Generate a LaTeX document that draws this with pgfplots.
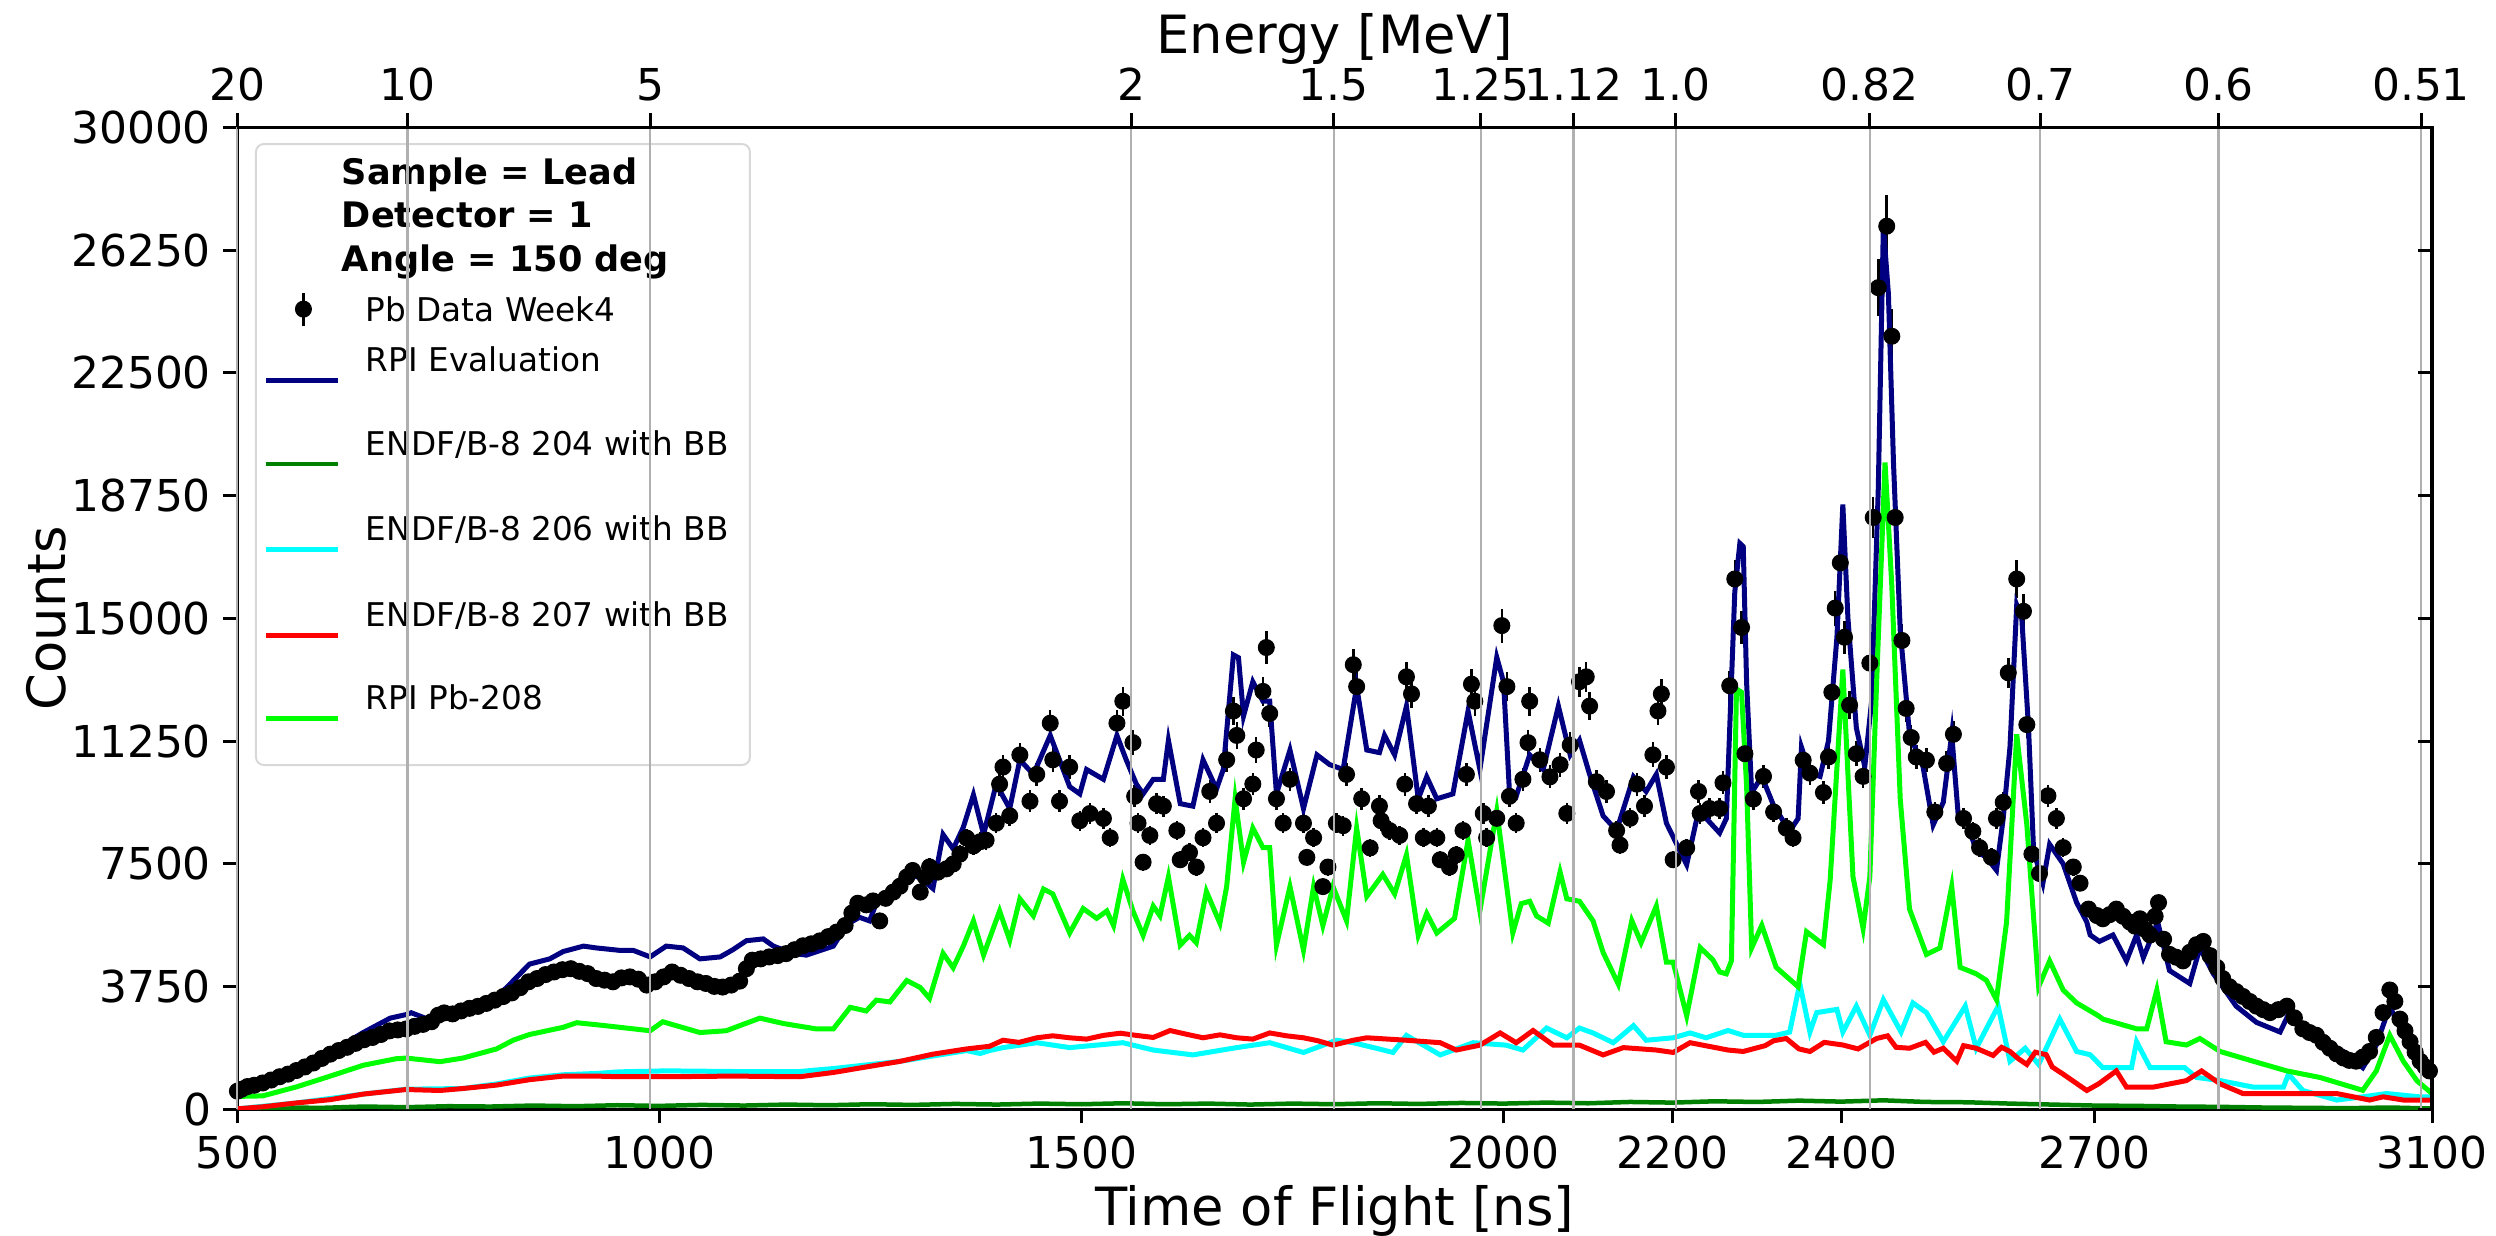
\documentclass[border=0pt]{standalone}
\usepackage{fontspec}
\setmainfont{DejaVu Sans}
\usepackage{pgfplots}
\pgfplotsset{compat=1.18}
\usepackage{pgfplotstable}

\definecolor{mplnavy}{HTML}{000080}
\definecolor{mplgreen}{HTML}{008000}
\definecolor{mplcyan}{HTML}{00FFFF}
\definecolor{mplred}{HTML}{FF0000}
\definecolor{mpllime}{HTML}{00FF00}
\definecolor{gridgray}{HTML}{B0B0B0}
\definecolor{legedge}{HTML}{D8D8D8}

\newcommand{\lrow}[3]{\rule[-#2]{0pt}{\dimexpr#1+#2\relax}#3}

\pgfplotsset{
  mylegline/.style={legend image code/.code={\draw[##1] (0mm,-0.9mm) -- (7.2mm,-0.9mm);}},
  mylegdata/.style={legend image code/.code={
    \draw[black, line width=0.25mm] (3.7mm,-0.46mm) -- (3.7mm,2.84mm);
    \draw[black, only marks, mark=*, mark size=0.8mm] plot coordinates {(3.7mm,1.19mm)};}},
}

\pgfplotstableread{
t c
500 560
505 620
512 700
520 740
530 810
540 900
550 1000
560 1080
570 1190
580 1300
590 1420
600 1560
610 1690
620 1800
630 1900
640 2020
650 2130
660 2200
670 2290
680 2400
690 2430
700 2460
710 2540
720 2600
730 2680
738 2880
745 2950
755 2920
765 3010
775 3090
785 3150
795 3240
805 3340
815 3450
825 3560
835 3720
845 3900
855 4000
865 4120
875 4200
885 4270
895 4300
905 4220
915 4150
925 4000
935 3950
945 3900
955 4020
965 4050
975 3980
985 3800
995 3900
1005 4050
1015 4200
1025 4100
1035 4000
1045 3900
1055 3850
1065 3760
1075 3740
1085 3800
1095 3920
1103 4300
1110 4560
1120 4600
1130 4660
1140 4700
1150 4760
1160 4880
1170 5000
1180 5060
1190 5150
1200 5280
1210 5420
1220 5620
1228 6000
1235 6300
1245 6250
1253 6370
1261 5760
1268 6450
1277 6640
1285 6820
1293 7100
1300 7300
1309 6640
1315 7100
1320 7410
1330 7250
1340 7350
1348 7500
1356 7800
1364 8290
1372 8050
1380 8180
1387 8225
1399 8745
1403 9937
1407 10460
1415 8970
1427 10830
1439 9415
1447 10235
1463 11800
1466 10680
1474 9415
1486 10460
1498 8820
1510 9040
1526 8890
1534 8300
1542 11800
1549 12470
1561 11205
1563 9565
1567 8745
1573 7553
1581 8370
1589 9340
1597 9265
1613 8520
1617 7628
1628 7850
1636 7405
1644 8300
1652 9715
1660 8745
1672 10680
1680 12170
1684 11425
1692 9490
1703 9940
1707 10980
1715 12770
1719 14110
1723 12095
1731 9490
1739 8745
1747 10085
1763 8745
1767 7700
1775 8300
1786 6808
1792 7405
1802 8745
1810 8670
1814 10235
1822 13585
1826 12917
1832 9490
1842 7990
1853 9267
1855 8820
1865 8521
1877 8372
1883 9937
1885 13215
1891 12694
1897 9341
1905 8298
1911 9267
1921 8298
1925 7628
1936 7404
1944 7777
1952 8521
1956 10235
1962 12992
1966 12470
1976 9043
1980 8298
1992 8894
1998 14780
2004 12917
2007 9565
2015 8745
2023 10086
2029 11204
2031 12470
2043 10682
2055 10160
2067 10533
2075 9043
2079 11129
2090 13066
2098 13215
2102 12321
2110 10012
2122 9713
2134 8521
2138 8075
2150 8894
2158 9937
2167 9267
2177 10831
2183 12172
2187 12694
2193 10458
2201 7628
2217 7990
2231 9713
2233 9043
2244 9192
2256 9192
2260 9977
2268 12942
2274 16204
2282 14722
2286 10866
2296 9482
2308 10174
2320 9087
2335 8593
2343 8296
2355 10669
2363 10273
2379 9680
2385 10767
2389 12744
2393 15315
2399 16698
2404 14425
2410 12349
2418 10866
2426 10174
2434 13634
2438 18082
2444 25101
2454 26979
2460 23618
2464 18082
2472 14326
2477 12250
2483 11361
2489 10767
2501 10669
2511 9087
2525 10570
2533 11460
2545 8889
2556 8494
2564 7999
2578 7703
2584 8889
2592 9383
2598 13338
2608 16204
2616 15216
2620 11756
2626 7802
2635 7209
2645 9582
2655 8889
2663 7999
2675 7406
2683 6912
2693 6121
2703 5924
2710 5825
2718 5950
2726 6121
2734 5900
2742 5726
2748 5600
2754 5825
2760 5500
2766 5330
2772 5900
2776 6319
2782 5200
2789 4737
2797 4650
2805 4540
2813 4800
2821 5034
2829 5133
2837 4700
2845 4342
2852 4000
2860 3749
2868 3600
2876 3452
2884 3300
2892 3156
2900 3050
2908 2959
2918 3050
2928 3156
2937 2800
2947 2464
2955 2350
2963 2267
2971 2050
2979 1871
2987 1700
2995 1574
3002 1500
3010 1475
3018 1600
3026 1772
3034 2200
3042 2959
3050 3650
3056 3300
3062 2761
3068 2400
3074 2069
3080 1750
3086 1475
3092 1300
3097 1178
}\tabdata

\pgfplotstableread{
t c
500 590
530 810
570 1250
610 1745
649 2350
681 2790
700 2900
706 2955
728 2735
748 2790
767 2955
807 3450
819 3725
846 4440
870 4600
886 4825
910 4990
925 4935
953 4860
969 4860
989 4660
1008 4990
1028 4935
1048 4600
1072 4660
1087 4880
1103 5155
1123 5210
1135 4990
1158 4770
1174 4715
1206 4990
1222 5650
1237 5870
1249 5760
1257 6310
1277 6640
1293 7190
1309 7080
1324 6750
1336 8400
1348 7960
1360 8620
1372 9610
1384 8400
1399 9940
1415 9190
1427 10680
1443 10235
1463 11425
1486 9860
1498 9640
1506 10385
1526 10085
1542 11425
1553 10680
1565 9940
1573 9640
1585 10085
1597 10085
1603 11275
1617 9340
1632 9265
1644 10680
1660 9790
1668 10385
1680 13885
1686 13800
1692 12020
1703 13065
1715 12470
1723 12470
1731 9640
1747 10980
1763 9190
1779 10830
1794 10535
1810 10385
1826 12915
1838 10980
1853 10900
1859 11427
1871 10831
1885 12321
1899 9490
1909 10160
1921 9490
1940 9640
1958 12172
1972 10384
1992 13811
2000 13066
2007 9713
2015 9565
2031 10831
2047 10384
2065 12321
2079 10831
2090 11278
2102 10235
2118 8968
2134 8521
2154 10160
2169 9713
2181 10235
2193 8745
2217 7479
2231 9118
2240 8894
2256 8447
2264 8889
2274 15809
2280 17291
2284 17192
2288 13038
2294 9680
2306 10174
2320 9284
2339 8494
2349 8889
2353 11064
2363 10273
2375 10174
2385 11262
2395 14425
2402 18478
2408 15018
2418 11657
2428 10471
2436 12448
2444 18972
2450 26979
2456 24903
2462 19763
2470 14623
2481 11460
2497 10471
2509 8692
2521 9383
2531 11460
2539 8889
2549 8790
2560 7901
2572 7703
2584 7307
2592 8889
2600 11064
2608 15413
2614 15018
2622 11657
2628 7901
2639 6912
2647 8098
2663 7505
2679 6319
2691 5726
2695 5330
2706 5133
2722 5330
2738 4540
2750 5330
2758 4639
2775 5726
2789 4244
2813 3848
2825 4935
2841 4145
2868 3156
2892 2662
2920 2366
2931 2959
2947 2366
2971 2069
2995 1772
3018 1277
3034 1970
3050 3156
3066 2267
3082 1376
3100 1079
}\tabnavy

\pgfplotstableread{
t c
500 400
530 415
570 690
610 1020
649 1350
688 1550
700 1570
740 1460
767 1570
807 1850
827 2120
846 2290
886 2510
902 2650
925 2590
953 2510
989 2405
1004 2680
1048 2350
1079 2405
1119 2790
1147 2625
1186 2460
1206 2460
1226 3120
1245 3010
1257 3340
1273 3285
1293 3940
1309 3725
1320 3395
1336 4770
1348 4330
1360 4990
1372 5760
1384 4720
1403 6063
1415 5170
1427 6435
1443 5915
1455 6733
1466 6585
1486 5393
1502 6137
1518 5840
1530 6063
1538 5617
1549 7032
1561 6063
1573 5318
1585 6212
1593 5915
1603 7106
1617 5020
1628 5318
1636 5095
1648 6659
1664 5690
1672 6808
1682 9490
1692 7553
1703 8596
1715 8000
1723 8000
1731 5020
1747 6808
1763 4870
1775 6808
1786 5617
1798 6808
1814 5765
1826 8596
1838 6510
1857 7180
1871 6585
1885 7777
1899 5318
1909 5989
1921 5392
1942 5840
1958 8223
1972 6063
1992 9118
2011 5392
2021 6287
2031 6360
2039 5915
2053 5690
2067 7255
2075 6435
2090 6360
2106 5765
2118 4796
2136 3828
2152 5765
2163 5094
2181 6212
2193 4498
2201 4498
2217 2859
2233 4945
2248 4573
2256 4200
2264 4144
2270 4540
2276 12843
2282 12744
2288 9878
2294 4935
2306 5627
2323 4342
2349 3749
2359 5429
2379 5034
2387 7011
2402 13437
2414 7110
2426 5528
2434 7110
2442 13042
2452 19763
2460 16007
2470 9483
2481 6121
2501 4737
2517 4935
2531 6814
2541 4342
2560 4144
2572 3947
2584 3354
2596 5726
2608 11460
2620 8692
2634 3749
2647 4540
2663 3650
2679 3255
2705 2859
2710 2761
2750 2464
2762 2464
2774 3650
2785 2069
2809 1970
2825 2168
2849 1772
2888 1475
2928 1178
2967 980
3018 585
3034 1178
3050 2267
3066 1475
3082 882
3100 487
}\tablime

\pgfplotstableread{
t c
500 20
531 85
570 200
610 300
649 470
700 610
740 580
767 640
807 745
846 910
886 1020
925 1020
953 1000
1008 1000
1087 1020
1166 1000
1206 1130
1245 1300
1285 1470
1324 1690
1364 1850
1391 1930
1407 2115
1426 2050
1447 2190
1466 2250
1486 2190
1506 2150
1526 2263
1546 2330
1565 2263
1585 2200
1605 2412
1624 2300
1644 2190
1664 2280
1684 2190
1703 2150
1723 2338
1743 2250
1763 2190
1780 2100
1798 1965
1822 2115
1838 2190
1885 2115
1925 2040
1944 1816
1972 1965
1996 2338
2015 2040
2035 2412
2059 1965
2090 1965
2118 1667
2142 1890
2181 1816
2201 1742
2221 2040
2266 1816
2284 1772
2310 1950
2320 2100
2335 2168
2350 1850
2363 1772
2380 2050
2402 1970
2420 1850
2442 2168
2455 2250
2465 1900
2481 1871
2500 2050
2510 1750
2521 1871
2537 1475
2545 1950
2560 1871
2580 1650
2590 1900
2600 1772
2610 1550
2620 1376
2630 1750
2643 1673
2650 1300
2663 1079
2691 580
2705 783
2726 1178
2738 684
2770 684
2809 882
2827 1178
2849 783
2876 487
2928 487
2987 487
3026 289
3042 387
3066 289
3100 289
}\tabred

\pgfplotstableread{
t c
500 20
570 200
649 470
700 620
767 640
807 780
846 960
886 1060
925 1100
953 1150
1008 1180
1087 1160
1166 1160
1206 1250
1245 1360
1285 1470
1324 1635
1364 1800
1380 1710
1391 1800
1407 1890
1447 2040
1486 1890
1549 2040
1585 1816
1632 1667
1684 1890
1723 2040
1763 1742
1802 2115
1822 2040
1846 1890
1869 1742
1885 2263
1925 1667
1964 2040
2003 1965
2023 1816
2051 2487
2075 2190
2090 2487
2106 2338
2130 2040
2154 2561
2169 2115
2201 2190
2221 2338
2240 2190
2266 2412
2284 2267
2323 2267
2339 2366
2351 3848
2363 2366
2371 2959
2395 3058
2402 2366
2418 3156
2434 2267
2450 3354
2471 2366
2485 3255
2501 2959
2521 2069
2547 3156
2560 1871
2586 3156
2600 1475
2618 1871
2634 1376
2659 2761
2679 1772
2695 1673
2710 1277
2744 1277
2750 2069
2766 1277
2789 1277
2807 1277
2821 980
2849 882
2888 684
2924 684
2930 1079
2947 580
2987 289
3018 387
3046 487
3085 387
3100 387
}\tabcyan

\pgfplotstableread{
t c
500 20
550 60
600 50
650 90
700 70
750 100
800 90
850 120
900 100
950 130
1000 110
1050 140
1100 120
1150 150
1200 130
1250 160
1300 140
1350 170
1400 150
1450 180
1500 160
1550 190
1600 160
1650 180
1700 150
1750 180
1800 160
1850 190
1900 170
1950 200
2000 180
2050 210
2100 190
2150 230
2200 210
2250 250
2300 230
2350 270
2400 240
2450 280
2500 230
2550 220
2600 180
2650 150
2700 120
2750 110
2800 90
2850 80
2900 60
2950 50
3000 40
3050 60
3100 30
}\tabgreen

\begin{document}
\begin{tikzpicture}
\begin{axis}[
  at={(0,0)}, anchor=south west,
  scale only axis, width=219.46mm, height=98.22mm,
  xmin=500, xmax=3100, ymin=0, ymax=30000,
  xtick={500,1000,1500,2000,2200,2400,2700,3100},
  ytick={0,3750,7500,11250,15000,18750,22500,26250,30000},
  xtick pos=left, ytick pos=left,
  tick align=outside,
  major tick length=1.4mm,
  every tick/.style={black, line width=0.3mm},
  axis line style={line width=0.35mm},
  scaled ticks=false,
  /pgf/number format/1000 sep={},
  /pgf/number format/assume math mode=true,
  ticklabel style={font=\fontsize{12.5}{15}\selectfont},
  xlabel={Time of Flight [ns]}, ylabel={Counts},
  label style={font=\fontsize{15}{18}\selectfont},
  xlabel style={at={(axis description cs:0.5,-0.1186)}, anchor=base},
  ylabel style={at={(axis description cs:-0.0872,0.5)}, anchor=center},
  legend style={
    at={(axis description cs:0.008,0.984)}, anchor=north west,
    draw=legedge, line width=0.2mm, rounded corners=0.8mm, fill=white,
    inner xsep=0.8mm, inner ysep=0.5mm,
    column sep=2.5mm, row sep=0pt,
    font=\fontsize{9.3}{11}\selectfont,
    cells={anchor=base west},
    nodes={inner sep=0pt, text depth={}},
  },
]
\addlegendimage{empty legend}
\addlegendentry{\lrow{3.5mm}{1.0mm}{\hspace*{-2.4mm}\fontsize{10}{12}\selectfont\bfseries Sample = Lead}}
\addlegendimage{empty legend}
\addlegendentry{\lrow{3.3mm}{1.0mm}{\hspace*{-2.4mm}\fontsize{10}{12}\selectfont\bfseries Detector = 1}}
\addlegendimage{empty legend}
\addlegendentry{\lrow{3.4mm}{1.5mm}{\hspace*{-2.4mm}\fontsize{10}{12}\selectfont\bfseries Angle = 150 deg}}

\addplot[only marks, mark=*, mark size=0.8mm, black, mark options={fill=black, draw=black, line width=0.1mm},
  mylegdata,
  error bars/.cd, y dir=both, y fixed relative=0.035, error mark=none,
  error bar style={line width=0.25mm, black}]
  table[x=t, y=c] {\tabdata};
\addlegendentry{\lrow{3.5mm}{1.5mm}{Pb Data Week4}}

\addplot[mplnavy, line width=0.5mm, no marks, mylegline]
  table[x=t, y=c] {\tabnavy};
\addlegendentry{\lrow{3.5mm}{4.5mm}{RPI Evaluation}}

\addplot[mplgreen, line width=0.45mm, no marks, mylegline]
  table[x=t, y=c] {\tabgreen};
\addlegendentry{\lrow{3.9mm}{4.5mm}{\makebox[37.6mm][l]{ENDF/B-8 204 with BB}}}

\addplot[mplcyan, line width=0.5mm, no marks, mylegline]
  table[x=t, y=c] {\tabcyan};
\addlegendentry{\lrow{4.0mm}{4.5mm}{ENDF/B-8 206 with BB}}

\addplot[mplred, line width=0.5mm, no marks, mylegline]
  table[x=t, y=c] {\tabred};
\addlegendentry{\lrow{4.1mm}{4.5mm}{ENDF/B-8 207 with BB}}

\addplot[mpllime, line width=0.5mm, no marks, mylegline]
  table[x=t, y=c] {\tablime};
\addlegendentry{\lrow{3.8mm}{5.1mm}{RPI Pb-208}}
\end{axis}

\begin{axis}[
  at={(0,0)}, anchor=south west,
  scale only axis, width=219.46mm, height=98.22mm,
  xmin=500, xmax=3100, ymin=0, ymax=30000,
  axis x line*=top, axis y line*=right,
  xtick={500,701.5,989,1559,1799,1973,2083,2204,2434,2636,2847,3087},
  xticklabels={20,10,5,2,1.5,1.25,1.12,1.0,0.82,0.7,0.6,0.51},
  ytick={0,3750,7500,11250,15000,18750,22500,26250,30000},
  yticklabels={},
  scaled ticks=false,
  xtick align=outside, ytick align=inside,
  major tick length=1.4mm,
  every tick/.style={black, line width=0.3mm},
  axis line style={line width=0.35mm},
  xmajorgrids=true,
  major grid style={gridgray, line width=0.22mm},
  ticklabel style={font=\fontsize{12.5}{15}\selectfont},
  xlabel={Energy [MeV]},
  xlabel style={at={(axis description cs:0.5,1.0753)}, anchor=base, font=\fontsize{15}{18}\selectfont},
]
\end{axis}
\pgfresetboundingbox
\path[use as bounding box] (-23.74mm,-12.65mm) rectangle (225.86mm,110.95mm);
\end{tikzpicture}
\end{document}
